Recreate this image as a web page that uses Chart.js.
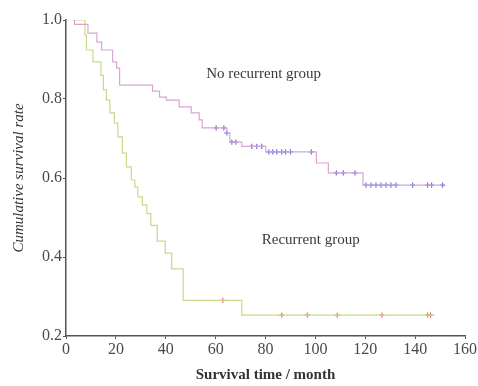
<!DOCTYPE html>
<html>
<head>
<meta charset="utf-8">
<script src="https://cdn.jsdelivr.net/npm/chart.js@4/dist/chart.umd.min.js"></script>
<style>
  html, body { margin: 0; padding: 0; background: #fff; }
  #wrap { width: 478px; height: 386px; }
</style>
</head>
<body>
<div id="wrap"><canvas id="kmChart" width="478" height="386"></canvas></div>
<script>
// Kaplan-Meier curves (months, survival rate)
const xTicks = [0, 20, 40, 60, 80, 100, 120, 140, 160];
const yTicks = [0.2, 0.4, 0.6, 0.8, 1.0];

// No recurrent group: steps
const noRecTimes  = [2.8, 3.4, 8.8, 12.4, 14.3, 18.7, 20.3, 21.5, 34.7, 37.5, 40.2, 45.4, 50.2, 53.4, 54.6, 64.5, 65.7, 70.5, 80.1, 100.4, 105.2, 119.1, 151.0];
const noRecValues = [1.0, 0.989, 0.967, 0.944, 0.924, 0.894, 0.878, 0.835, 0.82, 0.805, 0.797, 0.78, 0.765, 0.747, 0.727, 0.714, 0.691, 0.68, 0.666, 0.638, 0.613, 0.582, 0.582];
// No recurrent group: censored cases
const noRecCensorTimes  = [60.2, 63.3, 64.5, 66.5, 68.1, 74.5, 76.5, 78.5, 81.3, 82.9, 84.5, 86.5, 88.0, 90.0, 98.4, 108.4, 111.2, 115.9, 120.3, 122.3, 124.3, 126.3, 128.3, 130.3, 132.3, 139.0, 145.0, 146.6, 151.0];
const noRecCensorValues = [0.727, 0.727, 0.714, 0.691, 0.691, 0.68, 0.68, 0.68, 0.666, 0.666, 0.666, 0.666, 0.666, 0.666, 0.666, 0.613, 0.613, 0.613, 0.582, 0.582, 0.582, 0.582, 0.582, 0.582, 0.582, 0.582, 0.582, 0.582, 0.582];

// Recurrent group: steps
const recTimes  = [2.8, 7.6, 8.2, 10.8, 14.0, 15.0, 16.2, 17.6, 19.4, 20.8, 22.6, 24.2, 26.2, 27.6, 28.8, 30.6, 32.4, 34.0, 36.6, 39.8, 42.4, 47.0, 70.5, 147.8];
const recValues = [1.0, 0.962, 0.924, 0.894, 0.86, 0.823, 0.797, 0.765, 0.739, 0.704, 0.663, 0.628, 0.595, 0.577, 0.552, 0.532, 0.51, 0.48, 0.44, 0.41, 0.37, 0.29, 0.253, 0.253];
// Recurrent group: censored cases
const recCensorTimes  = [62.9, 86.5, 96.8, 108.8, 126.7, 145.0, 146.2];
const recCensorValues = [0.29, 0.253, 0.253, 0.253, 0.253, 0.253, 0.253];

const toPoints = (xs, ys) => xs.map((x, i) => ({ x: x, y: ys[i] }));

const serif = 'Liberation Serif';

// group labels written inside the plot
const groupLabels = {
    id: 'groupLabels',
    afterDatasetsDraw(chart) {
        const { ctx, scales } = chart;
        ctx.save();
        ctx.font = '15px "' + serif + '"';
        ctx.fillStyle = '#3a3a3a';
        ctx.textBaseline = 'middle';
        ctx.textAlign = 'left';
        ctx.fillText('No recurrent group', scales.x.getPixelForValue(56.2), scales.y.getPixelForValue(0.863));
        ctx.fillText('Recurrent group', scales.x.getPixelForValue(78.5), scales.y.getPixelForValue(0.443));
        ctx.restore();
    }
};

new Chart(document.getElementById('kmChart'), {
    type: 'scatter',
    data: {
        datasets: [
            {
                label: 'No recurrent group',
                data: toPoints(noRecTimes, noRecValues),
                showLine: true,
                stepped: 'before',
                borderColor: '#d9a3d6',
                borderWidth: 1.2,
                pointRadius: 0
            },
            {
                label: 'Recurrent group',
                data: toPoints(recTimes, recValues),
                showLine: true,
                stepped: 'before',
                borderColor: '#c9d98a',
                borderWidth: 1.2,
                pointRadius: 0
            },
            {
                label: 'No recurrent censored',
                data: toPoints(noRecCensorTimes, noRecCensorValues),
                showLine: false,
                pointStyle: 'cross',
                pointRadius: 2.6,
                borderColor: '#6c7ae0',
                borderWidth: 1.2
            },
            {
                label: 'Recurrent censored',
                data: toPoints(recCensorTimes, recCensorValues),
                showLine: false,
                pointStyle: 'cross',
                pointRadius: 2.6,
                borderColor: '#f07868',
                borderWidth: 1.2
            }
        ]
    },
    options: {
        responsive: false,
        animation: false,
        layout: { padding: { left: 0, right: 10, top: 20, bottom: 0 } },
        plugins: {
            legend: { display: false },
            tooltip: { enabled: false }
        },
        scales: {
            x: {
                type: 'linear',
                min: xTicks[0],
                max: xTicks[xTicks.length - 1],
                afterBuildTicks: s => { s.ticks = xTicks.map(v => ({ value: v })); },
                afterFit: s => { s.height = 50; },
                ticks: { font: { family: serif, size: 16 }, color: '#4a4a4a', padding: 1 },
                grid: { drawOnChartArea: false, drawTicks: true, tickLength: 3, color: '#555' },
                border: { color: '#555', width: 1.5 },
                title: {
                    display: true,
                    text: 'Survival time / month',
                    font: { family: serif, size: 15, weight: 'bold' },
                    color: '#333',
                    padding: { top: 0, bottom: 2 }
                }
            },
            y: {
                min: yTicks[0],
                max: yTicks[yTicks.length - 1],
                afterBuildTicks: s => { s.ticks = yTicks.map(v => ({ value: v })); },
                afterFit: s => { s.width = 66; },
                ticks: {
                    font: { family: serif, size: 16 },
                    color: '#4a4a4a',
                    padding: 1,
                    callback: v => v.toFixed(1)
                },
                grid: { drawOnChartArea: false, drawTicks: true, tickLength: 3, color: '#555' },
                border: { color: '#555', width: 1.5 },
                title: {
                    display: true,
                    text: 'Cumulative survival rate',
                    font: { family: serif, size: 15, style: 'italic' },
                    color: '#333',
                    padding: { top: 10, bottom: 0 }
                }
            }
        }
    },
    plugins: [groupLabels]
});
</script>
</body>
</html>
